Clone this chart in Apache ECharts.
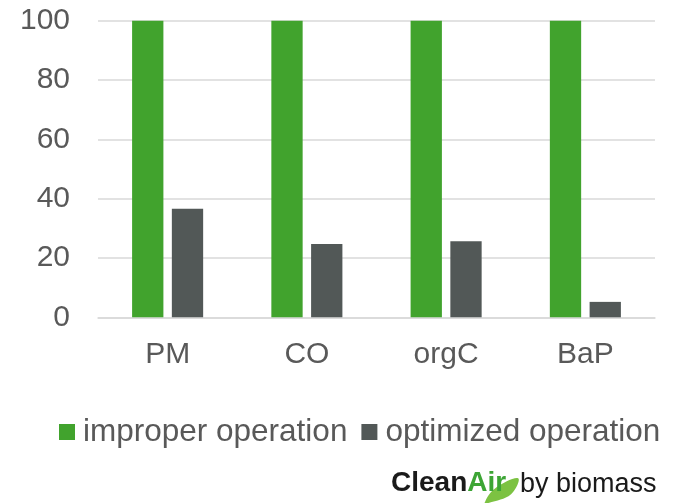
<!DOCTYPE html>
<html>
<head>
<meta charset="utf-8">
<script src="https://cdn.jsdelivr.net/npm/echarts@6/dist/echarts.min.js"></script>
<style>
    html, body { margin: 0; padding: 0; background: #fff; }
    #chart { width: 679px; height: 503px; }
</style>
</head>
<body>
<div id="chart"></div>
<script>
    // values
    var categories = ['PM', 'CO', 'orgC', 'BaP'];
    var improper = [100, 100, 100, 100];
    var optimized = [36.6, 24.7, 25.6, 5.2];
    var yTicks = [0, 20, 40, 60, 80, 100];

    var font = 'Liberation Sans, Arial, sans-serif';
    var textColor = '#595959';

    var chart = echarts.init(document.getElementById('chart'));
    var option = {
        animation: false,
        grid: { left: 98, right: 24, top: 20.7, bottom: 185.7, containLabel: false },
        legend: {
            data: ['improper operation', 'optimized operation'],
            left: 54,
            top: 411,
            itemWidth: 16,
            itemHeight: 16,
            itemGap: 14,
            icon: 'rect',
            textStyle: { fontFamily: font, fontSize: 31.5, color: textColor, padding: [0, 0, 0, 3] }
        },
        xAxis: {
            type: 'category',
            data: categories,
            axisLine: { lineStyle: { color: '#D9D9D9', width: 1.5 } },
            axisTick: { show: false },
            axisLabel: { fontFamily: font, fontSize: 30, color: textColor, margin: 22 }
        },
        yAxis: {
            type: 'value',
            min: yTicks[0],
            max: yTicks[yTicks.length - 1],
            interval: 20,
            axisLine: { show: false },
            axisTick: { show: false },
            splitLine: { lineStyle: { color: '#D9D9D9', width: 1.5 } },
            axisLabel: { fontFamily: font, fontSize: 30, color: textColor, margin: 28 }
        },
        series: [
            {
                name: 'improper operation',
                type: 'bar',
                data: improper,
                barWidth: 31.3,
                barGap: '27%',
                itemStyle: { color: '#41A32D' }
            },
            {
                name: 'optimized operation',
                type: 'bar',
                data: optimized,
                barWidth: 31.3,
                itemStyle: { color: '#525857' }
            }
        ],
        graphic: [
            {
                // leaf under "Air"
                type: 'polygon',
                shape: { points: [[0, 26], [10, 11], [34, 0], [27, 16], [4, 25]], smooth: 0.4 },
                left: 484,
                top: 478,
                style: { fill: '#7CC242' }
            },
            {
                type: 'text',
                left: 391,
                top: 469,
                style: {
                    text: '{a|Clean}{b|Air}',
                    rich: {
                        a: { fontFamily: font, fontSize: 28, fontWeight: 'bold', fill: '#1a1a1a' },
                        b: { fontFamily: font, fontSize: 28, fontWeight: 'bold', fill: '#3DA535' }
                    }
                }
            },
            {
                type: 'text',
                left: 520,
                top: 471,
                style: { text: 'by biomass', fontFamily: font, fontSize: 27, fill: '#1a1a1a' }
            }
        ]
    };
    chart.setOption(option);
</script>
</body>
</html>
